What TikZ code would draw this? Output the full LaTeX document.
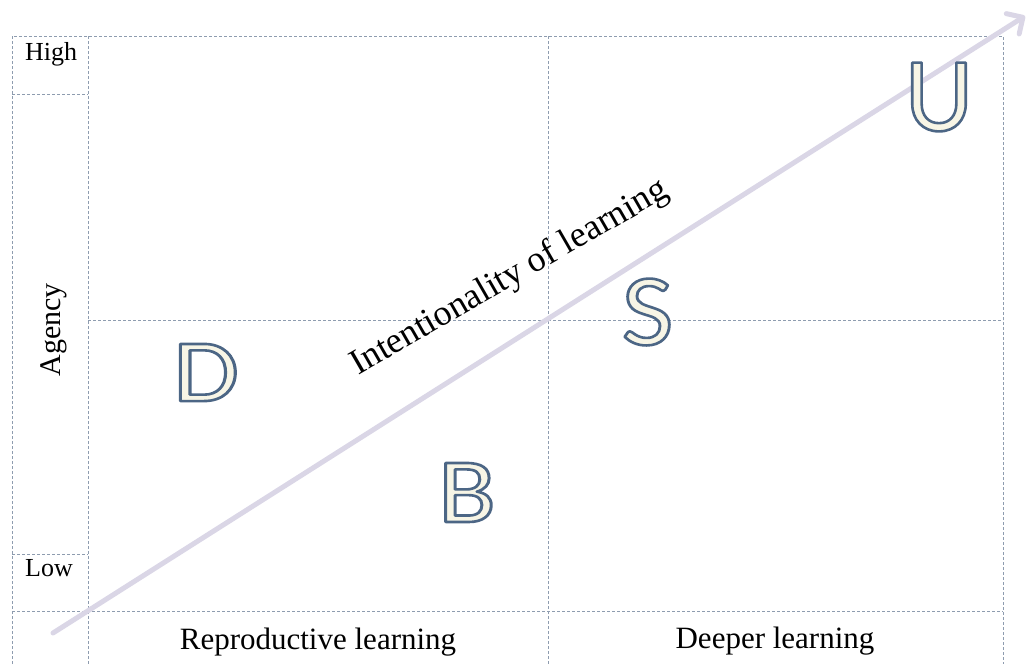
\documentclass[tikz,border=0pt]{standalone}
\usepackage{fontspec}
\setmainfont{Liberation Serif}
\newfontfamily\letterfont{Carlito}
\usetikzlibrary{arrows.meta}

\definecolor{gridline}{HTML}{8E9CAF}
\definecolor{arrowline}{HTML}{DAD6E6}
\definecolor{letterfill}{HTML}{F7F5E6}

% capital drawn filled and stroked (text render mode 2)
\newcommand{\hollowcap}[1]{%
  {\color{letterfill}%
   \special{pdf:literal direct 0.30 0.40 0.52 RG 2.6 w 1 j 2 Tr}%
   #1%
   \special{pdf:literal direct 0 Tr}}}

\begin{document}
\begin{tikzpicture}[x=1pt,y=-1pt,
  gridrule/.style={draw=gridline,line width=1pt,dash pattern=on 3pt off 2pt},
  sidelabel/.style={font=\fontsize{26}{26}\selectfont,text=black,inner sep=0pt},
  agencylabel/.style={font=\fontsize{30}{30}\selectfont,text=black,inner sep=0pt},
  colhead/.style={font=\fontsize{31}{31}\selectfont,text=black,inner sep=0pt},
  trendlabel/.style={font=\fontsize{36}{36}\selectfont,text=black,inner sep=0pt},
  bigletter/.style={inner sep=0pt},
  trendarrow/.style={draw=arrowline,line width=5pt,line cap=round,
    -{Straight Barb[angle=90:17pt,round]}}]
\useasboundingbox (0,0) rectangle (1028,664);

% table frame and cells
\draw[gridrule] (12,664) -- (12,36) -- (1003,36) -- (1003,664);
\draw[gridrule] (88,36) -- (88,664);
\draw[gridrule] (548,36) -- (548,664);
\draw[gridrule] (12,94) -- (88,94);
\draw[gridrule] (12,554) -- (88,554);
\draw[gridrule] (88,320) -- (1003,320);
\draw[gridrule] (12,611) -- (1003,611);

% axis labels
\node[sidelabel,anchor=base] (high) at (51,60) {High};
\node[sidelabel,anchor=base] (low) at (49,576) {Low};
\node[agencylabel,anchor=base,rotate=90] (agency) at (60,330) {Agency};
\node[colhead,anchor=base] (reproductive) at (318,649) {Reproductive learning};
\node[colhead,anchor=base] (deeper) at (775,648) {Deeper learning};

% diagonal trend arrow
\coordinate (trendstart) at (53,633);
\coordinate (trendend) at (1025,16);
\draw[trendarrow] (trendstart) -- (trendend);
\node[trendlabel,anchor=base,rotate=30] (intent) at (514,286) {Intentionality of learning};

% outlined letters
\node[bigletter,xscale=1.2] (letterD) at (206,372.5)
  {\letterfont\fontsize{89}{89}\selectfont\hollowcap{D}};
\node[bigletter,xscale=1.15] (letterB) at (467,492.5)
  {\letterfont\fontsize{92}{92}\selectfont\hollowcap{B}};
\node[bigletter,xscale=1.1] (letterS) at (647.5,312)
  {\letterfont\fontsize{102}{102}\selectfont\hollowcap{S}};
\node[bigletter,xscale=1.0] (letterU) at (939,97)
  {\letterfont\fontsize{106}{106}\selectfont\hollowcap{U}};
\end{tikzpicture}
\end{document}
